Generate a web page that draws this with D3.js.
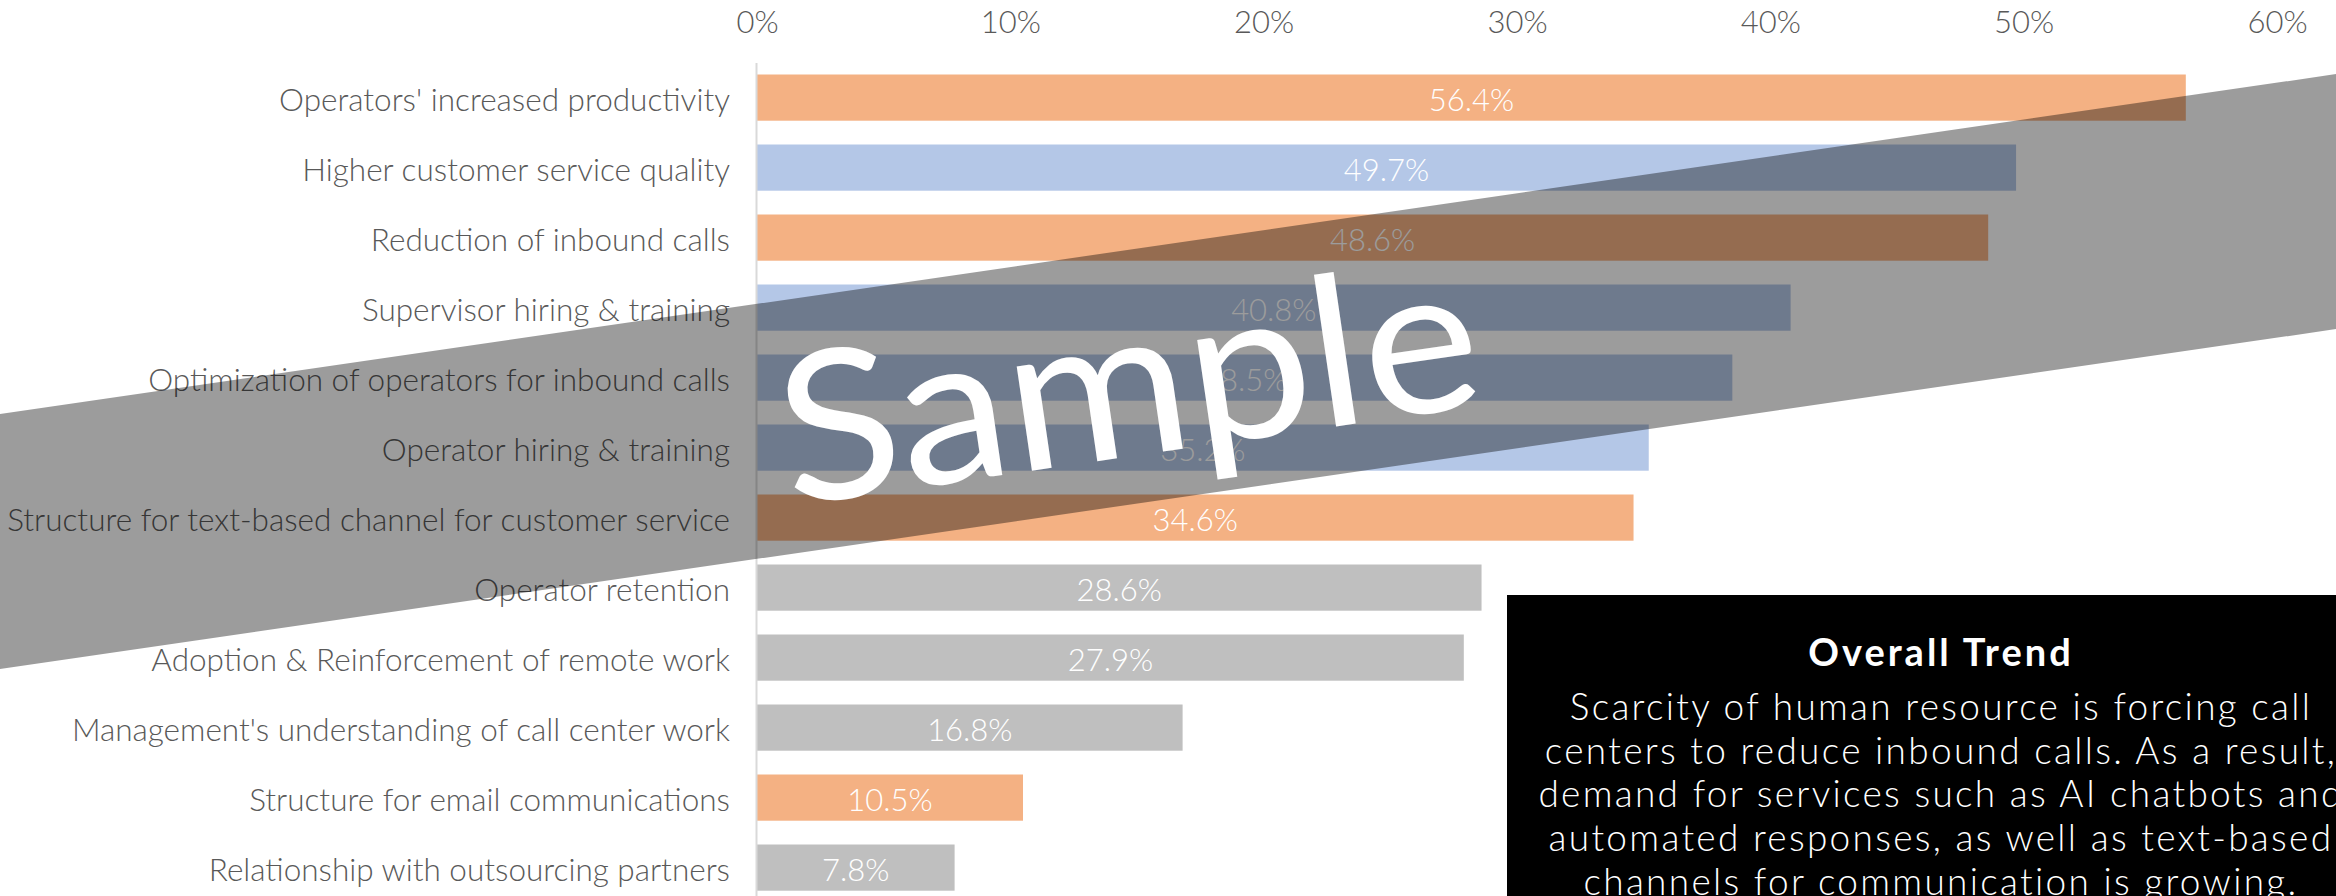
<!DOCTYPE html>
<html>
<head>
<meta charset="utf-8">
<script src="https://cdn.jsdelivr.net/npm/d3@7"></script>
<style>
  html, body { margin: 0; padding: 0; background: #ffffff; overflow: hidden; }
  svg { display: block; }
  text { font-family: Lato, "Open Sans", sans-serif; }
</style>
</head>
<body>
<svg id="chart" width="2336" height="896"></svg>
<script>
// ---- data ----
const categories = [
  "Operators' increased productivity",
  "Higher customer service quality",
  "Reduction of inbound calls",
  "Supervisor hiring & training",
  "Optimization of operators for inbound calls",
  "Operator hiring & training",
  "Structure for text-based channel for customer service",
  "Operator retention",
  "Adoption & Reinforcement of remote work",
  "Management's understanding of call center work",
  "Structure for email communications",
  "Relationship with outsourcing partners"
];
const values = [56.4, 49.7, 48.6, 40.8, 38.5, 35.2, 34.6, 28.6, 27.9, 16.8, 10.5, 7.8];
const groups = ["orange", "blue", "orange", "blue", "blue", "blue", "orange", "gray", "gray", "gray", "orange", "gray"];
const tickValues = [0, 10, 20, 30, 40, 50, 60];
const boxTitle = "Overall Trend";
const boxLines = [
  "Scarcity of human resource is forcing call",
  "centers to reduce inbound calls. As a result,",
  "demand for services such as AI chatbots and",
  "automated responses, as well as text-based",
  "channels for communication is growing."
];
const watermark = "Sample";

// ---- scales ----
const svg = d3.select("#chart");
const x = d3.scaleLinear().domain([0, 60]).range([757, 2277]);
const y = d3.scaleBand().domain(categories).range([62.6, 902.6])
  .paddingInner(0.34).paddingOuter(0.17);
const color = d3.scaleOrdinal()
  .domain(["orange", "blue", "gray"])
  .range(["#F4B183", "#B4C7E7", "#BFBFBF"]);

const rows = categories.map((c, i) => ({ c, v: values[i], g: groups[i] }));

// ---- top axis ----
const xAxis = svg.append("g")
  .attr("transform", "translate(0,33)")
  .call(d3.axisTop(x).tickValues(tickValues).tickFormat(d => d + "%").tickSize(0).tickPadding(0));
xAxis.select(".domain").remove();
xAxis.selectAll("text")
  .attr("fill", "#595959")
  .style("font-size", "31px")
  .style("font-weight", "300")
  .style("font-family", "Lato, sans-serif");

// ---- bars ----
svg.append("g").selectAll("rect")
  .data(rows).join("rect")
  .attr("x", x(0))
  .attr("y", d => y(d.c))
  .attr("width", d => x(d.v) - x(0))
  .attr("height", y.bandwidth())
  .attr("fill", d => color(d.g));

// ---- left axis ----
const yAxis = svg.append("g")
  .attr("transform", "translate(756,0)")
  .call(d3.axisLeft(y).tickSize(0).tickSizeOuter(0).tickPadding(26));
yAxis.select(".domain").attr("stroke", "#d9d9d9").attr("stroke-width", 2);
yAxis.selectAll("text")
  .attr("fill", "#595959")
  .attr("dy", "0.42em")
  .style("font-size", "31.5px")
  .style("font-weight", "300")
  .style("font-family", "Lato, sans-serif");

// ---- data labels ----
svg.append("g").selectAll("text")
  .data(rows).join("text")
  .attr("x", d => (x(0) + x(d.v)) / 2)
  .attr("y", d => y(d.c) + y.bandwidth() / 2)
  .attr("dy", "0.42em")
  .attr("text-anchor", "middle")
  .attr("fill", "#ffffff")
  .style("font-size", "31px")
  .style("font-weight", "300")
  .text(d => d.v.toFixed(1) + "%");

// ---- text box ----
const box = svg.append("g");
box.append("rect").attr("x", 1507).attr("y", 595).attr("width", 900).attr("height", 400).attr("fill", "#000000");
box.append("text")
  .attr("x", 1941).attr("y", 666)
  .attr("text-anchor", "middle")
  .attr("fill", "#ffffff")
  .style("font-size", "38px").style("font-weight", "700").style("letter-spacing", "3px")
  .text(boxTitle);
box.selectAll("text.line").data(boxLines).join("text")
  .attr("class", "line")
  .attr("x", 1941)
  .attr("y", (d, i) => 720 + i * 43.7)
  .attr("text-anchor", "middle")
  .attr("fill", "#ffffff")
  .style("font-size", "37px").style("font-weight", "300").style("letter-spacing", "2.3px")
  .text(d => d);

// ---- watermark band ----
const slope = 0.1455;
svg.append("polygon")
  .attr("points", [[0, 414], [2336, 414 - slope * 2336], [2336, 669 - slope * 2336], [0, 669]].map(p => p.join(",")).join(" "))
  .attr("fill", "#000000")
  .attr("fill-opacity", 0.39);
svg.append("text")
  .attr("transform", "translate(790,506) rotate(-8.3)")
  .attr("x", 0).attr("y", 0)
  .attr("fill", "#ffffff")
  .attr("textLength", 705)
  .attr("lengthAdjust", "spacingAndGlyphs")
  .style("font-size", "208px")
  .text(watermark);
</script>
</body>
</html>
